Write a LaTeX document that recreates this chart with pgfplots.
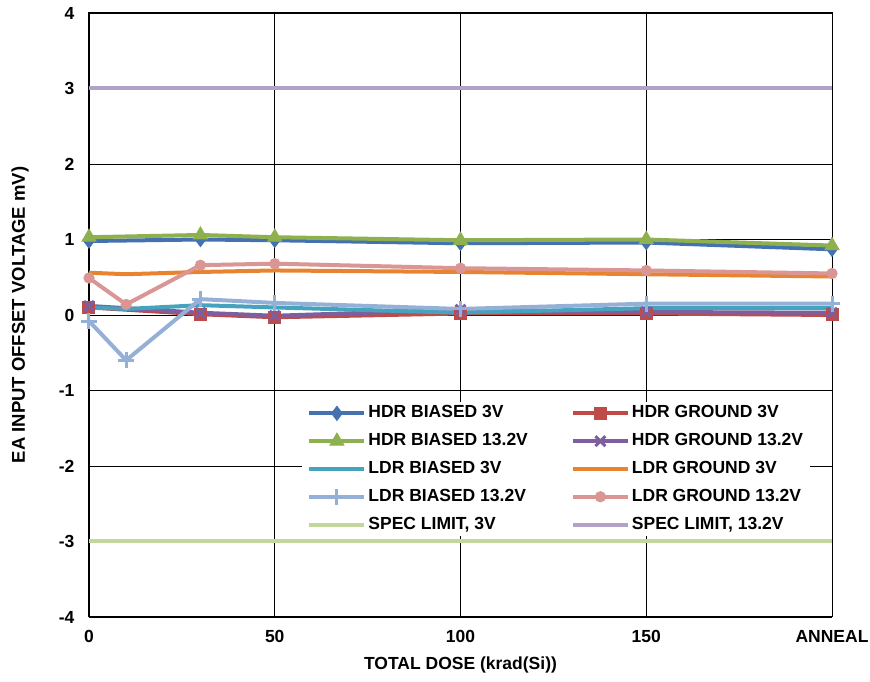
\documentclass[border=0pt]{standalone}
\usepackage{fontspec}
\setmainfont{Liberation Sans}
\usepackage{pgfplots}
\pgfplotsset{compat=1.18}
\usetikzlibrary{calc}

\definecolor{cHB3}{HTML}{4472B0}
\definecolor{cHG3}{HTML}{BE4B48}
\definecolor{cHB13}{HTML}{8EB04F}
\definecolor{cHG13}{HTML}{7D5FA0}
\definecolor{cLB3}{HTML}{46A3BD}
\definecolor{cLG3}{HTML}{E8842F}
\definecolor{cLB13}{HTML}{95B0D6}
\definecolor{cLG13}{HTML}{D99694}
\definecolor{cS3}{HTML}{C3D69B}
\definecolor{cS13}{HTML}{B3A2C7}

\begin{document}
\begin{tikzpicture}
\begin{axis}[
  name=ax,
  scale only axis, width=743pt, height=604pt,
  xmin=0, xmax=200, ymin=-4, ymax=4,
  xtick={0,50,100,150,200}, xticklabels={0,50,100,150,ANNEAL},
  ytick={-4,-3,...,4},
  grid=major,
  major grid style={black, line width=0.8pt},
  axis line style={black, line width=1pt},
  tick style={draw=none},
  clip=false,
  tick label style={font=\fontsize{17.5}{20}\selectfont\bfseries},
  /pgf/number format/assume math mode=true,
  yticklabel style={xshift=-11pt},
  xticklabel style={yshift=-10pt},
  every axis x label/.style={at={($(rel axis cs:0.5,0)+(0pt,-48pt)$)}, anchor=center},
  every axis y label/.style={at={($(rel axis cs:0,0.5)+(-69pt,0pt)$)}, rotate=90, anchor=center},
  xlabel style={font=\fontsize{17.5}{20}\selectfont\bfseries},
  ylabel style={font=\fontsize{18.5}{20}\selectfont\bfseries},
  xlabel={TOTAL DOSE (krad(Si))},
  ylabel={EA INPUT OFFSET VOLTAGE mV)},
  every axis plot/.append style={line width=4pt},
  legend columns=2,
  legend image code/.code={\draw[mark repeat=2,mark phase=2] plot coordinates {(0pt,0pt) (27.5pt,0pt) (55pt,0pt)};},
  legend style={at={(rel axis cs:0.287,0.3565)}, anchor=north west, draw=none, fill=white,
    font=\fontsize{17.5}{20}\selectfont\bfseries,
    nodes={inner sep=2pt, text height=13pt, text depth=4pt},
    row sep=6.8pt, inner xsep=5pt, inner ysep=1pt, cells={anchor=west},
    /tikz/every even column/.append style={column sep=41pt}},
]
% HDR BIASED 3V
\addplot[cHB3, mark=diamond*, mark size=7pt, mark options={solid, line width=1pt}] coordinates {
  (0,0.98) (30,1.00) (50,0.99) (100,0.95) (150,0.96) (200,0.87)};
\addlegendentry{HDR BIASED 3V}
% HDR GROUND 3V
\addplot[cHG3, mark=square*, mark size=6pt, mark options={solid, line width=1pt}] coordinates {
  (0,0.10) (30,0.01) (50,-0.03) (100,0.02) (150,0.02) (200,0.00)};
\addlegendentry{HDR GROUND 3V}
% HDR BIASED 13.2V
\addplot[cHB13, mark=triangle*, mark size=8pt, mark options={solid, line width=1pt}] coordinates {
  (0,1.03) (30,1.06) (50,1.03) (100,0.99) (150,1.00) (200,0.92)};
\addlegendentry{HDR BIASED 13.2V}
% HDR GROUND 13.2V
\addplot[cHG13, mark=x, mark size=7pt, mark options={solid, line width=3pt}] coordinates {
  (0,0.12) (30,0.03) (50,-0.01) (100,0.07) (150,0.04) (200,0.03)};
\addlegendentry{HDR GROUND 13.2V}
% LDR BIASED 3V
\addplot[cLB3] coordinates {
  (0,0.10) (10,0.08) (30,0.13) (50,0.10) (100,0.03) (150,0.09) (200,0.09)};
\addlegendentry{LDR BIASED 3V}
% LDR GROUND 3V
\addplot[cLG3] coordinates {
  (0,0.56) (10,0.54) (30,0.57) (50,0.59) (100,0.57) (150,0.54) (200,0.51)};
\addlegendentry{LDR GROUND 3V}
% LDR BIASED 13.2V
\addplot[cLB13, mark=+, mark size=8pt, mark options={solid, line width=3pt}] coordinates {
  (0,-0.08) (10,-0.60) (30,0.21) (50,0.16) (100,0.08) (150,0.15) (200,0.15)};
\addlegendentry{LDR BIASED 13.2V}
% LDR GROUND 13.2V
\addplot[cLG13, mark=*, mark size=3.5pt, mark options={solid}] coordinates {
  (0,0.49) (10,0.14) (30,0.66) (50,0.68) (100,0.62) (150,0.59) (200,0.55)};
\addlegendentry{LDR GROUND 13.2V}
% spec limits
\addplot[cS3] coordinates {(0,-3) (200,-3)};
\addlegendentry{SPEC LIMIT, 3V}
\addplot[cS13] coordinates {(0,3) (200,3)};
\addlegendentry{SPEC LIMIT, 13.2V}
\end{axis}
\pgfresetboundingbox
\path[use as bounding box] ($(ax.south west)+(-89pt,-65pt)$) rectangle ++(870pt,682pt);
\end{tikzpicture}
\end{document}
